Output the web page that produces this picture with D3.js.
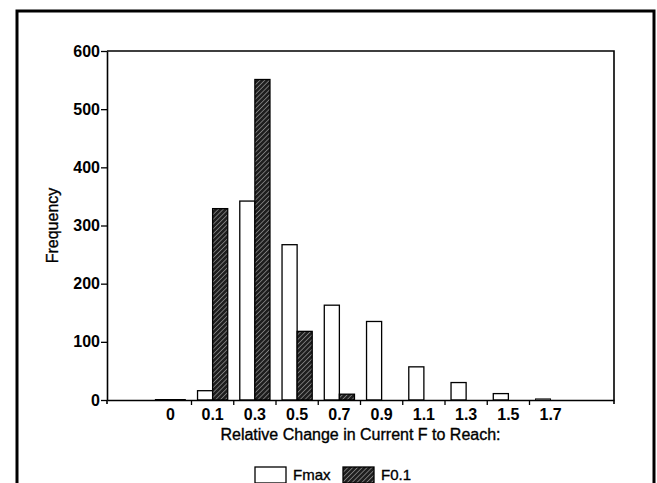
<!DOCTYPE html>
<html>
<head>
<meta charset="utf-8">
<script src="https://cdn.jsdelivr.net/npm/d3@7"></script>
<style>
    body { margin: 0; background: #fff; }
    svg { display: block; font-family: "Liberation Sans", Arial, sans-serif; }
    .heavy { stroke: #000; stroke-width: 0.35; }
</style>
</head>
<body>
<svg id="chart" width="657" height="483"></svg>
<script>
// categories along the x axis, with an empty slot at each end
const categories = ["pad0", "0", "0.1", "0.3", "0.5", "0.7", "0.9", "1.1", "1.3", "1.5", "1.7", "pad1"];
const seriesNames = ["Fmax", "F0.1"];
const fmaxValues = [0, 1, 16, 342, 267, 163, 135, 57, 30, 11, 2, 0];
const f01Values = [0, 1, 329, 551, 118, 10, 0, 0, 0, 0, 0, 0];
const yTicks = [0, 100, 200, 300, 400, 500, 600];

const svg = d3.select("#chart");
const margin = {left: 107, right: 43, top: 51, bottom: 83};
const width = 657;
const height = 483;

// hatch used for the F0.1 bars
const defs = svg.append("defs");
const pattern = defs.append("pattern")
    .attr("id", "hatch")
    .attr("patternUnits", "userSpaceOnUse")
    .attr("width", 3.4)
    .attr("height", 3.4)
    .attr("patternTransform", "rotate(45)");
pattern.append("rect")
    .attr("width", 3.4)
    .attr("height", 3.4)
    .attr("fill", "#1e1e1e");
pattern.append("line")
    .attr("x1", 0).attr("y1", 0)
    .attr("x2", 0).attr("y2", 3.4)
    .attr("stroke", "#d8d8d8")
    .attr("stroke-width", 0.9);

const fills = {"Fmax": "#fff", "F0.1": "url(#hatch)"};

// outer frame, open at the bottom
svg.append("path")
    .attr("d", `M17,${height} V11 H654 V${height}`)
    .attr("fill", "none")
    .attr("stroke", "#000")
    .attr("stroke-width", 3);

const x = d3.scaleBand()
    .domain(categories)
    .range([margin.left, width - margin.right])
    .paddingInner(0)
    .paddingOuter(0);

const x1 = d3.scaleBand()
    .domain(seriesNames)
    .range([0, x.bandwidth()])
    .paddingInner(0)
    .paddingOuter(0.4);

const y = d3.scaleLinear()
    .domain([0, 600])
    .range([height - margin.bottom, margin.top]);

const rows = categories.map((c, i) => ({cat: c, "Fmax": fmaxValues[i], "F0.1": f01Values[i]}));

// bars
const groups = svg.append("g")
    .selectAll("g")
    .data(rows)
    .enter()
    .append("g")
    .attr("transform", d => `translate(${x(d.cat)},0)`);

groups.selectAll("rect")
    .data(d => seriesNames.map(k => ({key: k, value: d[k]})).filter(e => e.value > 0))
    .enter()
    .append("rect")
    .attr("x", d => x1(d.key))
    .attr("y", d => y(d.value))
    .attr("width", x1.bandwidth())
    .attr("height", d => y(0) - y(d.value))
    .attr("fill", d => fills[d.key])
    .attr("stroke", "#000")
    .attr("stroke-width", d => d.value < 3 ? 0.8 : 1.3);

// plot box: top and right edges
const x0 = margin.left;
const xEnd = width - margin.right;
svg.append("path")
    .attr("d", `M${x0},${y(600)} H${xEnd} V${y(0) + 4}`)
    .attr("fill", "none")
    .attr("stroke", "#000")
    .attr("stroke-width", 1.6);

// y axis
const yAxis = svg.append("g")
    .attr("transform", `translate(${x0},0)`)
    .call(d3.axisLeft(y).tickValues(yTicks).tickSize(6).tickPadding(1).tickSizeOuter(0));
yAxis.select(".domain").attr("stroke-width", 1.6);
yAxis.selectAll(".tick line").attr("stroke-width", 1.3);
yAxis.selectAll("text")
    .attr("font-size", 16)
    .attr("font-weight", "bold")
    .attr("fill", "#000");

// x axis: labels in the middle of each slot, ticks on the slot edges
const xAxis = svg.append("g")
    .attr("transform", `translate(0,${y(0)})`)
    .call(d3.axisBottom(x).tickSize(0).tickPadding(9).tickSizeOuter(0)
        .tickFormat(d => d.startsWith("pad") ? "" : d));
xAxis.select(".domain").attr("stroke-width", 1.6);
xAxis.selectAll("text")
    .attr("font-size", 16)
    .attr("font-weight", "bold")
    .attr("fill", "#000");

const edgeCats = categories.slice(2, 11);
xAxis.selectAll(".edge")
    .data(edgeCats)
    .enter()
    .append("line")
    .attr("class", "edge")
    .attr("x1", d => x(d))
    .attr("x2", d => x(d))
    .attr("y1", 0)
    .attr("y2", 5)
    .attr("stroke", "#000")
    .attr("stroke-width", 1.3);
xAxis.append("line")
    .attr("x1", x0).attr("x2", x0)
    .attr("y1", 0).attr("y2", 4)
    .attr("stroke", "#000")
    .attr("stroke-width", 1.6);

// axis titles
svg.append("text")
    .attr("class", "heavy")
    .attr("x", (x0 + xEnd) / 2)
    .attr("y", 440)
    .attr("text-anchor", "middle")
    .attr("font-size", 16)
    .text("Relative Change in Current F to Reach:");

svg.append("text")
    .attr("class", "heavy")
    .attr("transform", `translate(58,${(y(0) + y(600)) / 2}) rotate(-90)`)
    .attr("text-anchor", "middle")
    .attr("font-size", 16)
    .text("Frequency");

// legend
const legend = svg.append("g")
    .attr("transform", "translate(255,467)");
const legendItems = legend.selectAll("g")
    .data(seriesNames)
    .enter()
    .append("g")
    .attr("transform", (d, i) => `translate(${i * 88},0)`);
legendItems.append("rect")
    .attr("width", 31)
    .attr("height", 16)
    .attr("fill", d => fills[d])
    .attr("stroke", "#000")
    .attr("stroke-width", 1.3);
legendItems.append("text")
    .attr("class", "heavy")
    .attr("x", 38)
    .attr("y", 13)
    .attr("font-size", 15)
    .text(d => d);
</script>
</body>
</html>
